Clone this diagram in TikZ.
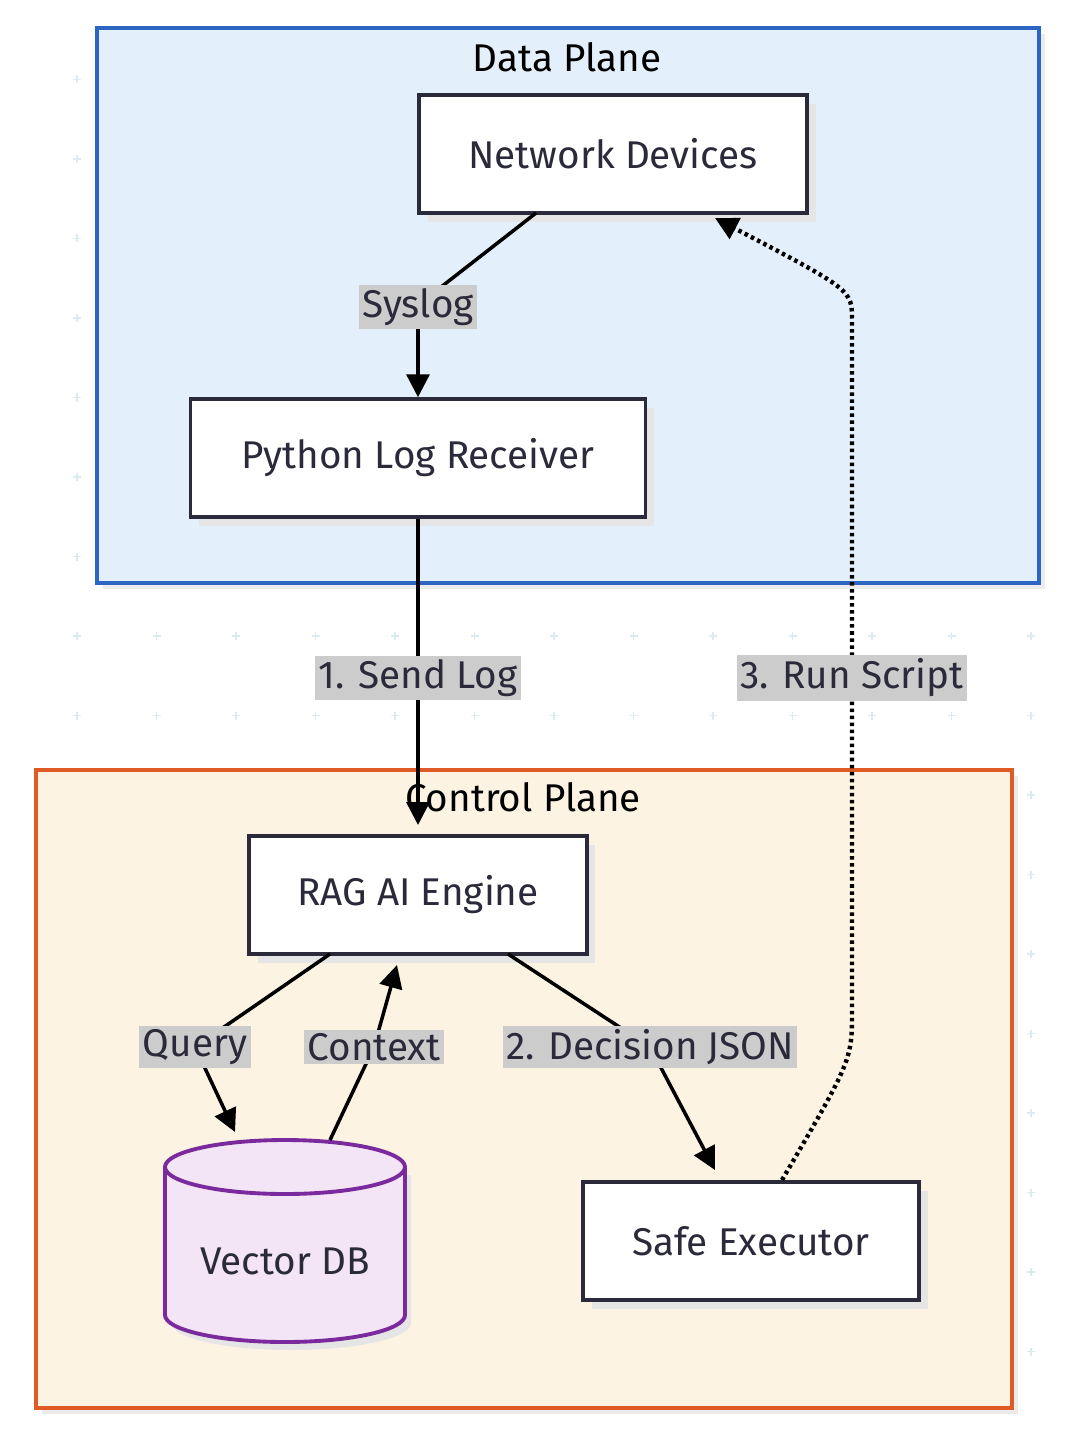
\documentclass[tikz,border=0pt]{standalone}
\usepackage{fontspec}
\setmainfont{Fira Sans}
\usetikzlibrary{arrows.meta,shadows}
\definecolor{dplanefill}{HTML}{E3F0FC}
\definecolor{dplaneline}{HTML}{2B66C0}
\definecolor{cplanefill}{HTML}{FDF3E3}
\definecolor{cplaneline}{HTML}{E05A26}
\definecolor{dbfill}{HTML}{F3E5F5}
\definecolor{dbline}{HTML}{7B2A9E}
\definecolor{boxline}{HTML}{2A2A3A}
\definecolor{lblfill}{HTML}{CCCCCC}
\definecolor{dotcolor}{HTML}{DCEBF0}
\tikzset{
  box/.style={draw=boxline,line width=2.2pt,fill=white,minimum width=#1,minimum height=67pt,
    font=\fontsize{22}{26}\selectfont,text=boxline,
    general shadow={fill=black!10,shadow xshift=5pt,shadow yshift=-5pt}},
  lbl/.style={fill=lblfill,inner sep=2pt,font=\fontsize{22}{26}\selectfont,text=boxline},
  arr/.style={line width=2pt,-{Triangle[length=13pt,width=13pt]}},
}
\begin{document}
\begin{tikzpicture}[x=0.02cm,y=-0.02cm]
  \useasboundingbox (0,0) rectangle (1066,1442);
  % background crosses
  \foreach \i in {0,...,13} { \foreach \j in {1,...,17} {
    \draw[dotcolor,line width=0.8pt] (\i*79.5+77-4,\j*79.5) -- +(8,0) (\i*79.5+77,\j*79.5-4) -- +(0,8); } }
  % planes
  \fill[black!8] (103,34) rectangle (1045,589);
  \draw[dplaneline,fill=dplanefill,line width=2.2pt] (97,28) rectangle (1039,583);
  \node[font=\fontsize{22}{26}\selectfont] (dptitle) at (567,57) {Data Plane};
  \fill[black!8] (42,776) rectangle (1018,1414);
  \draw[cplaneline,fill=cplanefill,line width=2.2pt] (36,770) rectangle (1012,1408);
  % nodes
  \node[box=221pt] (netdev) at (613,154) {Network Devices};
  \node[box=259pt] (pylog) at (418,458) {Python Log Receiver};
  \node[box=192pt] (rag) at (418,895) {RAG AI Engine};
  \node[box=191pt] (safe) at (751,1241) {Safe Executor};
  % vector db cylinder
  \fill[black!10] (171,1175) -- (171,1323) arc[start angle=180,end angle=0,x radius=120,y radius=27]
    -- (411,1175) -- cycle;
  \draw[dbline,fill=dbfill,line width=2.2pt] (165,1167) -- (165,1315)
    arc[start angle=180,end angle=0,x radius=120,y radius=27] -- (405,1167)
    arc[start angle=0,end angle=-180,x radius=120,y radius=27] -- cycle;
  \draw[dbline,line width=2.2pt] (165,1167) arc[start angle=180,end angle=0,x radius=120,y radius=27];
  \node[font=\fontsize{22}{26}\selectfont,text=boxline] (vdb) at (285,1261) {Vector DB};
  \coordinate (rs1) at (852,1010);
  \coordinate (rs2) at (852,320);
  % edges
  \draw[line width=2pt] (536,213) -- (418,305);
  \draw[arr] (418,305) -- (pylog.north);
  \node[lbl] (syslog) at (418,307) {Syslog};
  \draw[arr] (pylog.south) -- (418,825);
  \node[lbl] (sendlog) at (418,678) {1. Send Log};
  \draw[line width=2pt] (330,954) -- (195,1047);
  \draw[arr] (195,1047) -- (235,1132);
  \node[lbl] (query) at (195,1047) {Query};
  \draw[arr] (330,1140) -- (374,1047) -- (397,965);
  \node[lbl] (context) at (374,1047) {Context};
  \draw[arr] (508,954) -- (650,1047) -- (715,1170);
  \node[lbl] (decision) at (650,1047) {2. Decision JSON};
  \draw[arr,dotted,line width=2.5pt] (782,1180) .. controls (852,1060) .. (rs1) -- (rs2)
    .. controls (852,290) .. (715,218);
  \node[lbl] (runscript) at (852,678) {3. Run Script};
  \node[font=\fontsize{22}{26}\selectfont] (cptitle) at (523,797) {Control Plane};
\end{tikzpicture}
\end{document}
